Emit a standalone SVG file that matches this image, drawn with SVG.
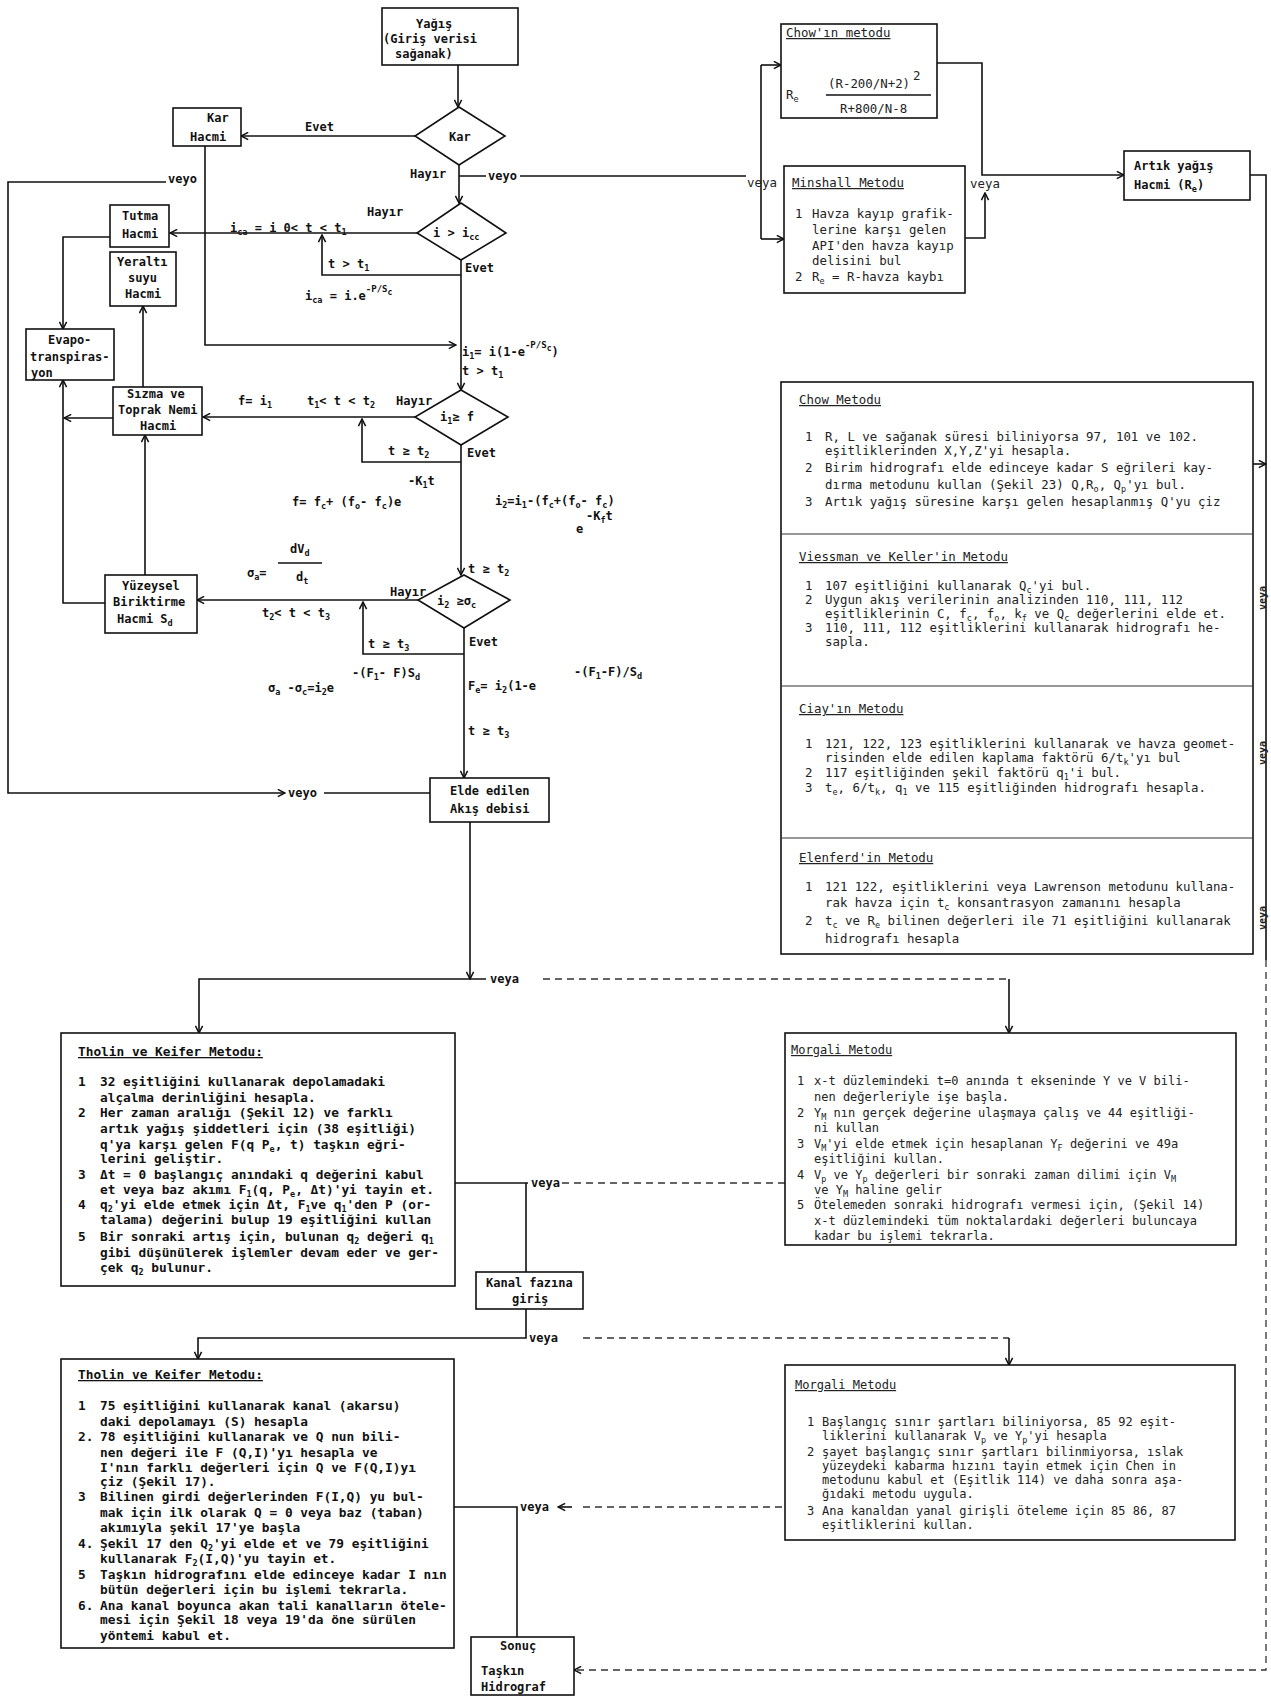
<svg xmlns="http://www.w3.org/2000/svg" width="1271" height="1700" viewBox="0 0 1271 1700">
<defs>
<marker id="a" viewBox="0 0 10 10" refX="9" refY="5" markerWidth="9" markerHeight="9" markerUnits="userSpaceOnUse" orient="auto"><path d="M1,1 L9,5 L1,9" fill="none" stroke="#111" stroke-width="1.7"/></marker>
<style>
.ln{stroke:#111;stroke-width:1.6;fill:none}
.dl{stroke:#333;stroke-width:1.3;fill:none;stroke-dasharray:7 5}
.bx{fill:#fff;stroke:#111;stroke-width:1.6}
.dv{stroke:#333;stroke-width:1.2;fill:none}
.b{font-family:"DejaVu Sans Mono","Liberation Mono",monospace;font-size:12px;font-weight:bold;fill:#111}
.k{font-family:"DejaVu Sans Mono","Liberation Mono",monospace;font-size:12.8px;font-weight:bold;fill:#111}
.m{font-family:"DejaVu Sans Mono","Liberation Mono",monospace;font-size:12.4px;fill:#222}
.g{font-family:"DejaVu Sans Mono","Liberation Mono",monospace;font-size:12px;fill:#222}
.u{text-decoration:underline}
.sb{font-size:8.5px;baseline-shift:-3px}
.sp{font-size:9px;baseline-shift:8px}
.vr{font-family:"DejaVu Sans Mono",monospace;font-size:10px;font-weight:bold;fill:#222}
</style>
</defs>
<rect width="1271" height="1700" fill="#fff"/>

<g id="connectors">
<path class="ln" d="M458,65 V107" marker-end="url(#a)"/>
<path class="ln" d="M415,136 H241" marker-end="url(#a)"/>
<path class="ln" d="M459,165 V203" marker-end="url(#a)"/>
<path class="ln" d="M459,176 H486 M520,176 H746"/>
<path class="ln" d="M761,65 V239"/>
<path class="ln" d="M761,65 H781" marker-end="url(#a)"/>
<path class="ln" d="M761,239 H784" marker-end="url(#a)"/>
<path class="ln" d="M937,63 H982 V175 H1124" marker-end="url(#a)"/>
<path class="ln" d="M965,238 H985 V193" marker-end="url(#a)"/>
<path class="ln" d="M1250,175 H1266 V960"/>
<path class="dl" d="M1266,960 V1670 H574" marker-end="url(#a)"/>
<path class="ln" d="M1253,464 H1266" marker-end="url(#a)"/>
<path class="ln" d="M205,146 V345 H456" marker-end="url(#a)"/>
<path class="ln" d="M166,182 H8 V793 H285" marker-end="url(#a)"/>
<path class="ln" d="M324,793 H430"/>
<path class="ln" d="M417,233 H170" marker-end="url(#a)"/>
<path class="ln" d="M461,275 H322 V235" marker-end="url(#a)"/>
<path class="ln" d="M461,260 V390" marker-end="url(#a)"/>
<path class="ln" d="M110,237 H63 V329" marker-end="url(#a)"/>
<path class="ln" d="M143,387 V306" marker-end="url(#a)"/>
<path class="ln" d="M415,417 H203" marker-end="url(#a)"/>
<path class="ln" d="M461,462 H362 V419" marker-end="url(#a)"/>
<path class="ln" d="M461,445 V575" marker-end="url(#a)"/>
<path class="ln" d="M113,418 H64" marker-end="url(#a)"/>
<path class="ln" d="M105,603 H63 V380" marker-end="url(#a)"/>
<path class="ln" d="M145,575 V435" marker-end="url(#a)"/>
<path class="ln" d="M418,600 H197" marker-end="url(#a)"/>
<path class="ln" d="M464,654 H363 V602" marker-end="url(#a)"/>
<path class="ln" d="M464,628 V778" marker-end="url(#a)"/>
<path class="ln" d="M470,822 V979" marker-end="url(#a)"/>
<path class="ln" d="M486,979 H199 V1033" marker-end="url(#a)"/>
<path class="dl" d="M543,979 H1009"/>
<path class="ln" d="M1009,979 V1033" marker-end="url(#a)"/>
<path class="ln" d="M455,1183 H528"/>
<path class="dl" d="M562,1183 H785"/>
<path class="ln" d="M526,1183 V1272"/>
<path class="ln" d="M526,1309 V1338 H198 V1359" marker-end="url(#a)"/>
<path class="dl" d="M583,1338 H1009"/>
<path class="ln" d="M1009,1338 V1365" marker-end="url(#a)"/>
<path class="ln" d="M454,1507 H517 V1637"/>
<path class="ln" d="M572,1507 H558" marker-end="url(#a)"/>
<path class="dl" d="M583,1507 H785"/>
</g>

<g id="n-yagis"><rect class="bx" x="382" y="8" width="136" height="57"/>
<text class="b" x="416" y="28">Yağış</text><text class="b" x="383" y="43">(Giriş verisi</text><text class="b" x="395" y="58">sağanak)</text></g>

<g id="n-kar"><polygon class="bx" points="459,107 505,136 459,165 415,136"/><text class="b" x="449" y="141">Kar</text></g>

<g id="n-karhacmi"><rect class="bx" x="173" y="108" width="68" height="38"/>
<text class="b" x="207" y="122">Kar</text><text class="b" x="190" y="141">Hacmi</text></g>

<g id="n-icc"><polygon class="bx" points="461,203 506,233 461,260 417,233"/>
<text class="b" x="433" y="237">i &gt; i<tspan class="sb">cc</tspan></text></g>

<g id="n-tutma"><rect class="bx" x="110" y="205" width="59" height="42"/>
<text class="b" x="122" y="220">Tutma</text><text class="b" x="122" y="238">Hacmi</text></g>

<g id="n-yeralti"><rect class="bx" x="110" y="252" width="66" height="54"/>
<text class="b" x="117" y="266">Yeraltı</text><text class="b" x="128" y="282">suyu</text><text class="b" x="125" y="298">Hacmi</text></g>

<g id="n-evapo"><rect class="bx" x="26" y="329" width="88" height="51"/>
<text class="b" x="48" y="344">Evapo-</text><text class="b" x="30" y="361">transpiras-</text><text class="b" x="31" y="377">yon</text></g>

<g id="n-i1f"><polygon class="bx" points="461,390 508,417 461,445 415,417"/>
<text class="b" x="440" y="421">i<tspan class="sb">1</tspan>≥ f</text></g>

<g id="n-sizma"><rect class="bx" x="113" y="387" width="89" height="48"/>
<text class="b" x="127" y="398">Sızma ve</text><text class="b" x="118" y="414">Toprak Nemi</text><text class="b" x="140" y="430">Hacmi</text></g>

<g id="n-i2s"><polygon class="bx" points="464,575 510,600 464,628 418,600"/>
<text class="b" x="437" y="605">i<tspan class="sb">2</tspan> ≥σ<tspan class="sb">c</tspan></text></g>

<g id="n-yuzeysel"><rect class="bx" x="105" y="575" width="92" height="58"/>
<text class="b" x="122" y="590">Yüzeysel</text><text class="b" x="113" y="606">Biriktirme</text><text class="b" x="117" y="623">Hacmi S<tspan class="sb">d</tspan></text></g>

<g id="n-elde"><rect class="bx" x="430" y="778" width="119" height="44"/>
<text class="b" x="450" y="795">Elde edilen</text><text class="b" x="450" y="813">Akış debisi</text></g>

<g id="labels-flow">
<text class="b" x="305" y="131">Evet</text>
<text class="b" x="410" y="178">Hayır</text>
<text class="b" x="488" y="180">veyo</text>
<text class="b" x="168" y="183">veyo</text>
<text class="b" x="367" y="216">Hayır</text>
<text class="b" x="230" y="232">i<tspan class="sb">ca</tspan> = i  0&lt; t &lt; t<tspan class="sb">1</tspan></text>
<text class="b" x="328" y="268">t &gt; t<tspan class="sb">1</tspan></text>
<text class="b" x="465" y="272">Evet</text>
<text class="b" x="305" y="300">i<tspan class="sb">ca</tspan> = i.e<tspan class="sp">-P/S<tspan font-size="8" baseline-shift="-3px">c</tspan></tspan></text>
<text class="b" x="462" y="356">i<tspan class="sb">1</tspan>= i(1-e<tspan class="sp">-P/S<tspan font-size="8" baseline-shift="-3px">c</tspan></tspan>)</text>
<text class="b" x="462" y="375">t &gt; t<tspan class="sb">1</tspan></text>
<text class="b" x="396" y="405">Hayır</text>
<text class="b" x="238" y="405">f= i<tspan class="sb">1</tspan></text>
<text class="b" x="307" y="405">t<tspan class="sb">1</tspan>&lt; t &lt; t<tspan class="sb">2</tspan></text>
<text class="b" x="388" y="455">t ≥ t<tspan class="sb">2</tspan></text>
<text class="b" x="467" y="457">Evet</text>
<text class="b" x="292" y="506">f= f<tspan class="sb">c</tspan>+ (f<tspan class="sb">o</tspan>- f<tspan class="sb">c</tspan>)e</text>
<text class="b" x="408" y="485">-K<tspan class="sb">1</tspan>t</text>
<text class="b" x="495" y="505">i<tspan class="sb">2</tspan>=i<tspan class="sb">1</tspan>-(f<tspan class="sb">c</tspan>+(f<tspan class="sb">o</tspan>- f<tspan class="sb">c</tspan>)</text>
<text class="b" x="576" y="533">e</text>
<text class="b" x="586" y="520">-K<tspan class="sb">f</tspan>t</text>
<text class="b" x="468" y="573">t ≥ t<tspan class="sb">2</tspan></text>
<text class="b" x="390" y="596">Hayır</text>
<text class="b" x="247" y="577">σ<tspan class="sb">a</tspan>=</text>
<text class="b" x="290" y="553">dV<tspan class="sb">d</tspan></text>
<path class="ln" d="M278,563 H322" stroke-width="1.2"/>
<text class="b" x="296" y="581">d<tspan class="sb">t</tspan></text>
<text class="b" x="262" y="617">t<tspan class="sb">2</tspan>&lt; t &lt; t<tspan class="sb">3</tspan></text>
<text class="b" x="368" y="648">t ≥ t<tspan class="sb">3</tspan></text>
<text class="b" x="469" y="646">Evet</text>
<text class="b" x="268" y="692">σ<tspan class="sb">a</tspan> -σ<tspan class="sb">c</tspan>=i<tspan class="sb">2</tspan>e</text>
<text class="b" x="352" y="677">-(F<tspan class="sb">1</tspan>- F)S<tspan class="sb">d</tspan></text>
<text class="b" x="468" y="690">F<tspan class="sb">e</tspan>= i<tspan class="sb">2</tspan>(1-e</text>
<text class="b" x="574" y="676">-(F<tspan class="sb">1</tspan>-F)/S<tspan class="sb">d</tspan></text>
<text class="b" x="468" y="735">t ≥ t<tspan class="sb">3</tspan></text>
<text class="b" x="288" y="797">veyo</text>
<text class="b" x="490" y="983">veya</text>
<text class="b" x="531" y="1187">veya</text>
<text class="b" x="529" y="1342">veya</text>
<text class="b" x="520" y="1511">veya</text>
<text class="m" x="747" y="187">veya</text>
<text class="m" x="970" y="188">veya</text>
<text class="vr" transform="translate(1266,598) rotate(-90)" text-anchor="middle">veya</text>
<text class="vr" transform="translate(1266,753) rotate(-90)" text-anchor="middle">veya</text>
<text class="vr" transform="translate(1266,918) rotate(-90)" text-anchor="middle">veya</text>
</g>

<g id="n-chow"><rect class="bx" x="781" y="24" width="156" height="94"/>
<text class="m u" x="786" y="37">Chow'ın metodu</text>
<text class="m" x="786" y="99">R<tspan class="sb">e</tspan></text>
<text class="m" x="828" y="88">(R-200/N+2)</text><text class="m" x="913" y="80" font-size="10">2</text>
<path class="ln" d="M826,95 H931" stroke-width="1.1"/>
<text class="m" x="840" y="113">R+800/N-8</text></g>

<g id="n-minshall"><rect class="bx" x="784" y="166" width="181" height="127"/>
<text class="m u" x="792" y="187">Minshall Metodu</text>
<text class="m" x="795" y="218">1</text><text class="m" x="812" y="218">Havza kayıp grafik-</text>
<text class="m" x="812" y="234">lerine karşı gelen</text>
<text class="m" x="812" y="250">API'den havza kayıp</text>
<text class="m" x="812" y="265">delisini bul</text>
<text class="m" x="795" y="281">2</text><text class="m" x="812" y="281">R<tspan class="sb">e</tspan> = R-havza kaybı</text></g>

<g id="n-artik"><rect class="bx" x="1124" y="151" width="126" height="49"/>
<text class="b" x="1134" y="170">Artık yağış</text><text class="b" x="1134" y="189">Hacmi (R<tspan class="sb">e</tspan>)</text></g>

<g id="n-panel"><rect class="bx" x="781" y="382" width="472" height="572"/>
<path class="dv" d="M781,534 H1253 M781,686 H1253 M781,838 H1253"/>
<text class="m u" x="799" y="404">Chow Metodu</text>
<text class="m" x="805" y="441">1</text><text class="m" x="825" y="441">R, L  ve sağanak süresi biliniyorsa 97, 101 ve 102.</text>
<text class="m" x="825" y="455">eşitliklerinden X,Y,Z'yi hesapla.</text>
<text class="m" x="805" y="472">2</text><text class="m" x="825" y="472">Birim hidrografı elde edinceye kadar S eğrileri kay-</text>
<text class="m" x="825" y="489">dırma metodunu kullan (Şekil 23)  Q,R<tspan class="sb">o</tspan>, Q<tspan class="sb">p</tspan>'yı bul.</text>
<text class="m" x="805" y="506">3</text><text class="m" x="825" y="506">Artık yağış süresine karşı gelen hesaplanmış Q'yu çiz</text>
<text class="m u" x="799" y="561">Viessman ve Keller'in Metodu</text>
<text class="m" x="805" y="590">1</text><text class="m" x="825" y="590">107 eşitliğini kullanarak Q<tspan class="sb">c</tspan>'yi bul.</text>
<text class="m" x="805" y="604">2</text><text class="m" x="825" y="604">Uygun akış verilerinin analizinden 110, 111, 112</text>
<text class="m" x="825" y="618">eşitliklerinin C, f<tspan class="sb">c</tspan>, f<tspan class="sb">o</tspan>, k<tspan class="sb">f</tspan> ve Q<tspan class="sb">c</tspan> değerlerini elde et.</text>
<text class="m" x="805" y="632">3</text><text class="m" x="825" y="632">110, 111, 112 eşitliklerini kullanarak hidrografı he-</text>
<text class="m" x="825" y="646">sapla.</text>
<text class="m u" x="799" y="713">Ciay'ın Metodu</text>
<text class="m" x="805" y="748">1</text><text class="m" x="825" y="748">121, 122, 123 eşitliklerini kullanarak ve havza geomet-</text>
<text class="m" x="825" y="762">risinden elde edilen kaplama faktörü  6/t<tspan class="sb">k</tspan>'yı bul</text>
<text class="m" x="805" y="777">2</text><text class="m" x="825" y="777">117 eşitliğinden şekil faktörü q<tspan class="sb">1</tspan>'i bul.</text>
<text class="m" x="805" y="792">3</text><text class="m" x="825" y="792">t<tspan class="sb">e</tspan>, 6/t<tspan class="sb">k</tspan>, q<tspan class="sb">1</tspan> ve 115 eşitliğinden hidrografı hesapla.</text>
<text class="m u" x="799" y="862">Elenferd'in Metodu</text>
<text class="m" x="805" y="891">1</text><text class="m" x="825" y="891">121  122, eşitliklerini veya Lawrenson metodunu kullana-</text>
<text class="m" x="825" y="907">rak havza için t<tspan class="sb">c</tspan> konsantrasyon zamanını hesapla</text>
<text class="m" x="805" y="925">2</text><text class="m" x="825" y="925">t<tspan class="sb">c</tspan> ve R<tspan class="sb">e</tspan> bilinen değerleri ile 71 eşitliğini kullanarak</text>
<text class="m" x="825" y="943">hidrografı hesapla</text></g>

<g id="n-tholin1"><rect class="bx" x="61" y="1033" width="394" height="253"/>
<text class="k u" x="78" y="1056">Tholin ve Keifer Metodu:</text>
<text class="k" x="78" y="1086">1</text><text class="k" x="100" y="1086">32 eşitliğini kullanarak depolamadaki</text>
<text class="k" x="100" y="1102">alçalma derinliğini hesapla.</text>
<text class="k" x="78" y="1117">2</text><text class="k" x="100" y="1117">Her zaman aralığı (Şekil 12) ve farklı</text>
<text class="k" x="100" y="1133">artık yağış şiddetleri için (38 eşitliği)</text>
<text class="k" x="100" y="1149">q'ya karşı gelen F(q P<tspan class="sb">e</tspan>, t) taşkın eğri-</text>
<text class="k" x="100" y="1163">lerini geliştir.</text>
<text class="k" x="78" y="1179">3</text><text class="k" x="100" y="1179">Δt = 0 başlangıç anındaki q değerini kabul</text>
<text class="k" x="100" y="1194">et veya baz akımı F<tspan class="sb">1</tspan>(q, P<tspan class="sb">e</tspan>, Δt)'yi tayin et.</text>
<text class="k" x="78" y="1209">4</text><text class="k" x="100" y="1209">q<tspan class="sb">2</tspan>'yi elde etmek için Δt, F<tspan class="sb">1</tspan>ve q<tspan class="sb">1</tspan>'den P (or-</text>
<text class="k" x="100" y="1224">talama) değerini bulup 19 eşitliğini kullan</text>
<text class="k" x="78" y="1241">5</text><text class="k" x="100" y="1241">Bir sonraki artış için, bulunan q<tspan class="sb">2</tspan> değeri q<tspan class="sb">1</tspan></text>
<text class="k" x="100" y="1257">gibi düşünülerek işlemler devam eder ve ger-</text>
<text class="k" x="100" y="1272">çek q<tspan class="sb">2</tspan> bulunur.</text></g>

<g id="n-morgali1"><rect class="bx" x="785" y="1033" width="451" height="212"/>
<text class="g u" x="791" y="1054">Morgali Metodu</text>
<text class="g" x="797" y="1085">1</text><text class="g" x="814" y="1085">x-t düzlemindeki t=0 anında t ekseninde Y ve V bili-</text>
<text class="g" x="814" y="1101">nen değerleriyle işe başla.</text>
<text class="g" x="797" y="1117">2</text><text class="g" x="814" y="1117">Y<tspan class="sb">M</tspan> nın gerçek değerine ulaşmaya çalış ve 44 eşitliği-</text>
<text class="g" x="814" y="1132">ni kullan</text>
<text class="g" x="797" y="1148">3</text><text class="g" x="814" y="1148">V<tspan class="sb">M</tspan>'yi elde etmek için hesaplanan Y<tspan class="sb">F</tspan> değerini ve 49a</text>
<text class="g" x="814" y="1163">eşitliğini kullan.</text>
<text class="g" x="797" y="1179">4</text><text class="g" x="814" y="1179">V<tspan class="sb">p</tspan> ve Y<tspan class="sb">p</tspan> değerleri bir sonraki zaman dilimi için V<tspan class="sb">M</tspan></text>
<text class="g" x="814" y="1194">ve Y<tspan class="sb">M</tspan> haline gelir</text>
<text class="g" x="797" y="1209">5</text><text class="g" x="814" y="1209">Ötelemeden sonraki hidrografı vermesi için, (Şekil 14)</text>
<text class="g" x="814" y="1225">x-t düzlemindeki tüm noktalardaki değerleri buluncaya</text>
<text class="g" x="814" y="1240">kadar bu işlemi tekrarla.</text></g>

<g id="n-kanal"><rect class="bx" x="476" y="1272" width="107" height="37"/>
<text class="b" x="486" y="1287">Kanal fazına</text><text class="b" x="512" y="1303">giriş</text></g>

<g id="n-tholin2"><rect class="bx" x="61" y="1359" width="393" height="289"/>
<text class="k u" x="78" y="1379">Tholin ve Keifer Metodu:</text>
<text class="k" x="78" y="1410">1</text><text class="k" x="100" y="1410">75 eşitliğini kullanarak kanal (akarsu)</text>
<text class="k" x="100" y="1426">daki depolamayı (S) hesapla</text>
<text class="k" x="78" y="1441">2.</text><text class="k" x="100" y="1441">78 eşitliğini kullanarak ve Q nun bili-</text>
<text class="k" x="100" y="1457">nen değeri ile F (Q,I)'yı hesapla ve</text>
<text class="k" x="100" y="1472">I'nın farklı değerleri için Q ve F(Q,I)yı</text>
<text class="k" x="100" y="1486">çiz (Şekil 17).</text>
<text class="k" x="78" y="1501">3</text><text class="k" x="100" y="1501">Bilinen girdi değerlerinden F(I,Q) yu bul-</text>
<text class="k" x="100" y="1517">mak için ilk olarak Q = 0 veya baz (taban)</text>
<text class="k" x="100" y="1532">akımıyla şekil 17'ye başla</text>
<text class="k" x="78" y="1548">4.</text><text class="k" x="100" y="1548">Şekil 17 den Q<tspan class="sb">2</tspan>'yi elde et ve 79 eşitliğini</text>
<text class="k" x="100" y="1563">kullanarak F<tspan class="sb">2</tspan>(I,Q)'yu tayin et.</text>
<text class="k" x="78" y="1579">5</text><text class="k" x="100" y="1579">Taşkın hidrografını elde edinceye kadar I nın</text>
<text class="k" x="100" y="1594">bütün değerleri için bu işlemi tekrarla.</text>
<text class="k" x="78" y="1610">6.</text><text class="k" x="100" y="1610">Ana kanal boyunca akan tali kanalların ötele-</text>
<text class="k" x="100" y="1624">mesi için Şekil 18 veya 19'da öne sürülen</text>
<text class="k" x="100" y="1640">yöntemi kabul et.</text></g>

<g id="n-morgali2"><rect class="bx" x="785" y="1365" width="450" height="175"/>
<text class="g u" x="795" y="1389">Morgali Metodu</text>
<text class="g" x="807" y="1426">1</text><text class="g" x="822" y="1426">Başlangıç sınır şartları biliniyorsa, 85 92 eşit-</text>
<text class="g" x="822" y="1440">liklerini kullanarak V<tspan class="sb">p</tspan> ve Y<tspan class="sb">p</tspan>'yi hesapla</text>
<text class="g" x="807" y="1456">2</text><text class="g" x="822" y="1456">şayet başlangıç sınır şartları bilinmiyorsa, ıslak</text>
<text class="g" x="822" y="1470">yüzeydeki kabarma hızını tayin etmek için Chen in</text>
<text class="g" x="822" y="1484">metodunu kabul et (Eşitlik 114) ve daha sonra aşa-</text>
<text class="g" x="822" y="1498">ğıdaki metodu uygula.</text>
<text class="g" x="807" y="1515">3</text><text class="g" x="822" y="1515">Ana kanaldan yanal girişli öteleme için 85 86, 87</text>
<text class="g" x="822" y="1529">eşitliklerini kullan.</text></g>

<g id="n-sonuc"><rect class="bx" x="471" y="1637" width="103" height="58"/>
<text class="b" x="500" y="1650" font-size="10">Sonuç</text>
<text class="b" x="481" y="1675">Taşkın</text><text class="b" x="481" y="1691">Hidrograf</text></g>
</svg>
